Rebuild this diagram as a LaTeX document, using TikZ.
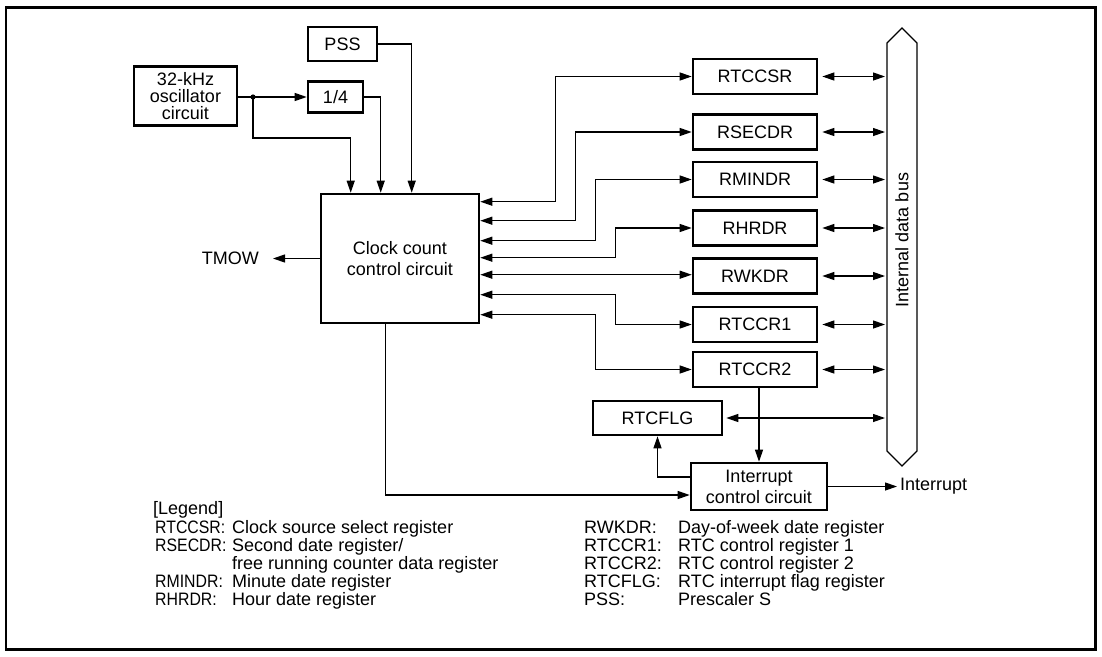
\documentclass[tikz,border=0pt]{standalone}
\usepackage{fontspec}
\setmainfont{Liberation Sans}
\usetikzlibrary{arrows.meta,calc}
\begin{document}
\begin{tikzpicture}[x=1pt,y=-1pt,
  txt/.style={font=\fontsize{18}{21}\selectfont},
  box/.style={draw, line width=2.6pt, inner sep=0pt, align=center, txt},
  reg/.style={box, minimum width=124pt, minimum height=35pt},
  tip/.tip={Triangle[length=12pt,width=8pt]},
  con/.style={line width=1.2pt, -tip},
  bicon/.style={line width=1.2pt, tip-tip},
  bus/.style={line width=1.2pt},
  lg/.style={txt, anchor=base west, inner sep=0pt}]
\path[use as bounding box] (0,0) rectangle (1102,656);
\draw[line width=2.4pt] (6,7.5) rectangle (1095.5,649.5);

% blocks
\node[box, minimum width=103pt, minimum height=59pt, font=\fontsize{18}{16.7}\selectfont] (osc) at (185.5,96) {32-kHz\\oscillator\\circuit};
\node[box, minimum width=69pt, minimum height=34pt] (pss) at (342.5,44) {PSS};
\node[box, minimum width=55pt, minimum height=31pt] (quarter) at (335.5,97) {1/4};
\node[box, minimum width=158pt, minimum height=129pt] (clock) at (400,258.5) {Clock count\\control circuit};

\node[reg] (r1) at (755,76.5) {RTCCSR};
\node[reg] (r2) at (755,132) {RSECDR};
\node[reg] (r3) at (755,179.5) {RMINDR};
\node[reg] (r4) at (755,228) {RHRDR};
\node[reg] (r5) at (755,276) {RWKDR};
\node[reg] (r6) at (755,324.5) {RTCCR1};
\node[reg] (r7) at (755,369.5) {RTCCR2};
\node[box, minimum width=129pt, minimum height=34pt] (flg) at (657.5,418) {RTCFLG};
\node[box, minimum width=136pt, minimum height=47pt] (intr) at (759,486.5) {Interrupt\\control circuit};

% internal data bus
\draw[bus] (887,43) -- (902,28) -- (917,43) -- (917,451) -- (902,466) -- (887,451) -- cycle;
\coordinate (busL) at (887,240);
\node[txt, rotate=90, inner sep=0pt] (busname) at (902,240) {Internal data bus};

% outside labels
\node[txt, inner sep=0pt, anchor=east] (tmow) at (259,258.5) {TMOW};
\node[txt, inner sep=0pt, anchor=west] (intout) at (900,486.5) {Interrupt};

% clock inputs
\coordinate (dot) at (253,97);
\fill (dot) circle (2.6pt);
\draw[line width=1.2pt] (osc.east |- dot) -- (dot);
\draw[con] (dot) -- (quarter.west);
\coordinate (in1) at ($(clock.north west)+(31,0)$);
\coordinate (in2) at ($(clock.north west)+(61,0)$);
\coordinate (in3) at ($(clock.north west)+(92,0)$);
\draw[con] (dot) -- ++(0,41) -| (in1);
\draw[con] (quarter.east) -| (in2);
\draw[con] (pss.east) -| (in3);

% TMOW
\draw[con, shorten >=14pt] (clock.west) -- (tmow.east);

% clock <-> registers
\coordinate (k1) at ($(clock.north east)+(0,9)$);
\coordinate (k2) at ($(clock.north east)+(0,28)$);
\coordinate (k3) at ($(clock.north east)+(0,48)$);
\coordinate (k4) at ($(clock.north east)+(0,65)$);
\coordinate (k5) at ($(clock.north east)+(0,82)$);
\coordinate (k6) at ($(clock.north east)+(0,102)$);
\coordinate (k7) at ($(clock.north east)+(0,122)$);
\draw[bicon] (k1) -- ++(75,0) |- (r1.west);
\draw[bicon] (k2) -- ++(95,0) |- (r2.west);
\draw[bicon] (k3) -- ++(115,0) |- (r3.west);
\draw[bicon] (k4) -- ++(135,0) |- (r4.west);
\draw[bicon] (k5) -- (r5.west |- k5);
\draw[bicon] (k6) -- ++(135,0) |- (r6.west);
\draw[bicon] (k7) -- ++(115,0) |- (r7.west);

% registers <-> bus
\foreach \r in {r1,r2,r3,r4,r5,r6,r7}
  \draw[bicon, shorten <=4pt, shorten >=2pt] (\r.east) -- (\r.east -| busL);
\draw[bicon, shorten <=3pt, shorten >=2pt] (flg.east) -- (flg.east -| busL);

% interrupt logic
\draw[con] (intr.north |- r7.south) -- (intr.north);
\draw[con] ($(intr.west)+(0,-9.5)$) -| (flg.south);
\draw[con] ($(clock.south west)+(66,0)$) |- ($(intr.west)+(0,8.5)$);
\draw[con, shorten >=3pt] (intr.east |- intout.west) -- (intout.west);

% legend
\newcommand{\nar}[1]{\scalebox{0.88}[1]{#1}}
\node[lg] (lgh) at (153,514.5) {[Legend]};
\node[lg] (la1) at (155,533.5) {\nar{RTCCSR:}};
\node[lg] (lb1) at (232,533.5) {Clock source select register};
\node[lg] (la2) at (155,551.5) {\nar{RSECDR:}};
\node[lg] (lb2) at (232,551.5) {Second date register/};
\node[lg] (lb2b) at (232,569.5) {free running counter data register};
\node[lg] (la3) at (155,587.5) {\nar{RMINDR:}};
\node[lg] (lb3) at (232,587.5) {Minute date register};
\node[lg] (la4) at (155,605.5) {\nar{RHRDR:}};
\node[lg] (lb4) at (232,605.5) {Hour date register};
\node[lg] (la5) at (584,533.5) {RWKDR:};
\node[lg] (lb5) at (678,533.5) {Day-of-week date register};
\node[lg] (la6) at (584,551.5) {RTCCR1:};
\node[lg] (lb6) at (678,551.5) {RTC control register 1};
\node[lg] (la7) at (584,569.5) {RTCCR2:};
\node[lg] (lb7) at (678,569.5) {RTC control register 2};
\node[lg] (la8) at (584,587.5) {RTCFLG:};
\node[lg] (lb8) at (678,587.5) {RTC interrupt flag register};
\node[lg] (la9) at (584,605.5) {PSS:};
\node[lg] (lb9) at (678,605.5) {Prescaler S};
\end{tikzpicture}
\end{document}
